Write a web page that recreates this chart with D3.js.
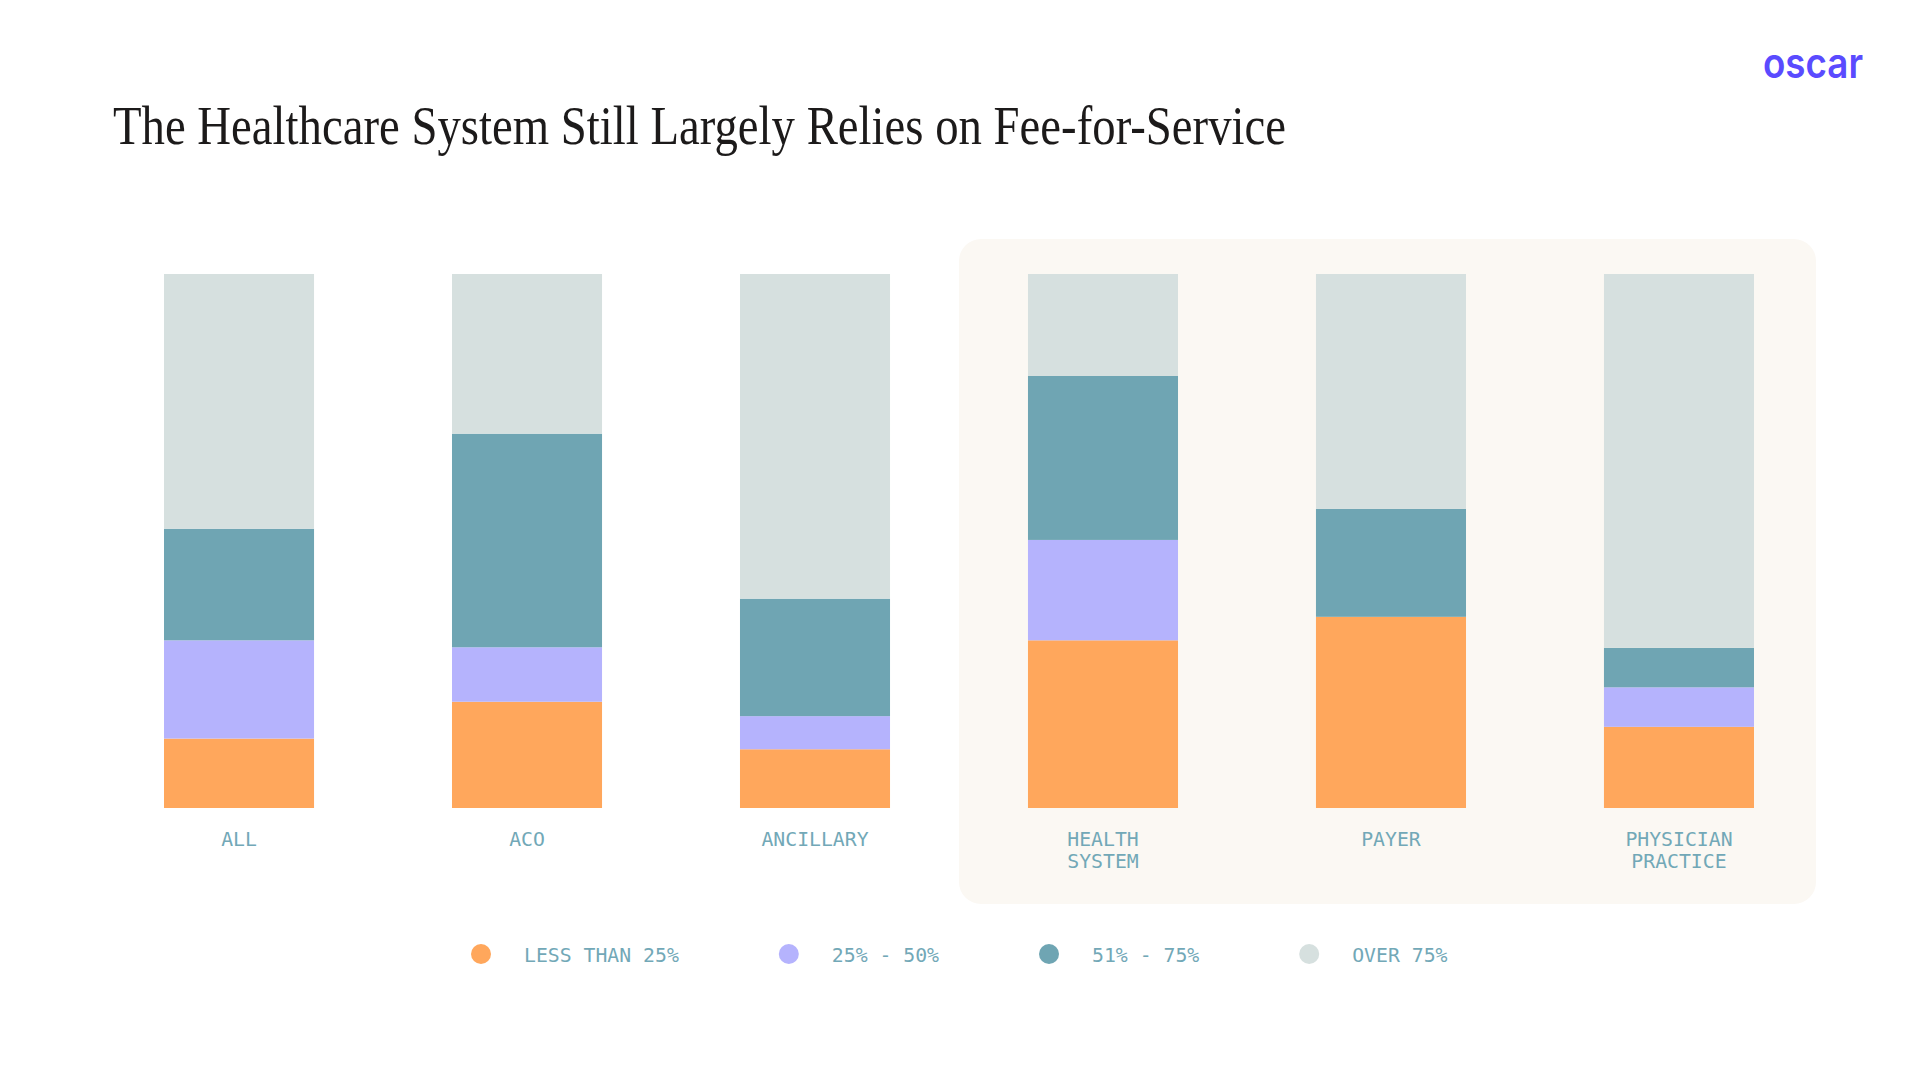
<!DOCTYPE html>
<html>
<head>
<meta charset="utf-8">
<script src="https://cdn.jsdelivr.net/npm/d3@7/dist/d3.min.js"></script>
<style>
  html, body { margin: 0; padding: 0; background: #ffffff; }
  svg { display: block; }
</style>
</head>
<body>
<div id="chart"></div>
<script>
// ---- Data (percent of organisations) ----
const categories = ["ALL", "ACO", "ANCILLARY", "HEALTH SYSTEM", "PAYER", "PHYSICIAN PRACTICE"];
const highlighted = ["HEALTH SYSTEM", "PAYER", "PHYSICIAN PRACTICE"];
const seriesNames = ["LESS THAN 25%", "25% - 50%", "51% - 75%", "OVER 75%"];
const lessThan25 = [13.0, 19.9, 11.0, 31.4, 35.8, 15.2];
const from25to50 = [18.4, 10.2, 6.2, 18.8, 0.0, 7.4];
const from51to75 = [20.9, 40.0, 22.0, 30.7, 20.2, 7.4];
const over75     = [47.7, 29.9, 60.8, 19.1, 44.0, 70.0];
const seriesColors = ["#FFA75C", "#B5B3FD", "#6FA5B3", "#D6E0DF"];
const titleText = "The Healthcare System Still Largely Relies on Fee-for-Service";

const W = 1920, H = 1080;
const svg = d3.select("#chart").append("svg").attr("width", W).attr("height", H);
svg.append("rect").attr("width", W).attr("height", H).attr("fill", "#ffffff");

const rows = categories.map((c, i) => ({
  category: c,
  s0: lessThan25[i], s1: from25to50[i], s2: from51to75[i], s3: over75[i]
}));
const keys = ["s0", "s1", "s2", "s3"];
const stacked = d3.stack().keys(keys)(rows);

const x = d3.scaleBand().domain(categories).range([164, 1754]).paddingInner(0.479).paddingOuter(0);
const y = d3.scaleLinear().domain([0, 100]).range([808, 274]);
const color = d3.scaleOrdinal().domain(keys).range(seriesColors);

// highlight panel behind the last three groups
const hx0 = x(highlighted[0]) - 69;
const hx1 = x(highlighted[highlighted.length - 1]) + x.bandwidth() + 62;
svg.append("rect")
  .attr("x", hx0).attr("y", 239)
  .attr("width", hx1 - hx0).attr("height", 665)
  .attr("rx", 22).attr("ry", 22)
  .attr("fill", "#FBF8F3");

// title
svg.append("text")
  .attr("x", 113).attr("y", 144)
  .attr("font-family", "'Liberation Serif', 'DejaVu Serif', serif")
  .attr("font-size", 55)
  .attr("fill", "#1c1a1a")
  .attr("textLength", 1173)
  .attr("lengthAdjust", "spacingAndGlyphs")
  .text(titleText);

// logo
svg.append("text")
  .attr("x", 1763).attr("y", 78)
  .attr("font-family", "Inter, 'Noto Sans', sans-serif")
  .attr("font-weight", 600)
  .attr("font-size", 42)
  .attr("fill", "#5A4BFF")
  .attr("textLength", 100)
  .attr("lengthAdjust", "spacingAndGlyphs")
  .text("oscar");

// bars
svg.append("g").selectAll("g")
  .data(stacked)
  .join("g")
  .attr("fill", d => color(d.key))
  .selectAll("rect")
  .data(d => d)
  .join("rect")
  .attr("x", d => x(d.data.category))
  .attr("y", d => y(d[1]))
  .attr("width", x.bandwidth())
  .attr("height", d => Math.max(0, y(d[0]) - y(d[1])));

// category labels
const monoFont = "'DejaVu Sans Mono', 'Liberation Mono', monospace";
const labelColor = "#72A8B7";
const labels = svg.append("g").selectAll("text")
  .data(categories)
  .join("text")
  .attr("x", d => x(d) + x.bandwidth() / 2)
  .attr("y", 846)
  .attr("text-anchor", "middle")
  .attr("font-family", monoFont)
  .attr("font-size", 19.8)
  .attr("fill", labelColor);
labels.each(function(d) {
  const parts = d.split(" ");
  const t = d3.select(this);
  parts.forEach((p, i) => {
    t.append("tspan")
      .attr("x", x(d) + x.bandwidth() / 2)
      .attr("dy", i === 0 ? 0 : 22)
      .text(p);
  });
});

// legend
const legend = svg.append("g");
let lx = 481;
seriesNames.forEach((name, i) => {
  legend.append("circle")
    .attr("cx", lx).attr("cy", 954).attr("r", 10)
    .attr("fill", seriesColors[i]);
  const t = legend.append("text")
    .attr("x", lx + 43).attr("y", 961.5)
    .attr("font-family", monoFont)
    .attr("font-size", 19.8)
    .attr("fill", labelColor)
    .text(name);
  const w = t.node().getComputedTextLength();
  lx = lx + 43 + w + 110;
});
</script>
</body>
</html>
